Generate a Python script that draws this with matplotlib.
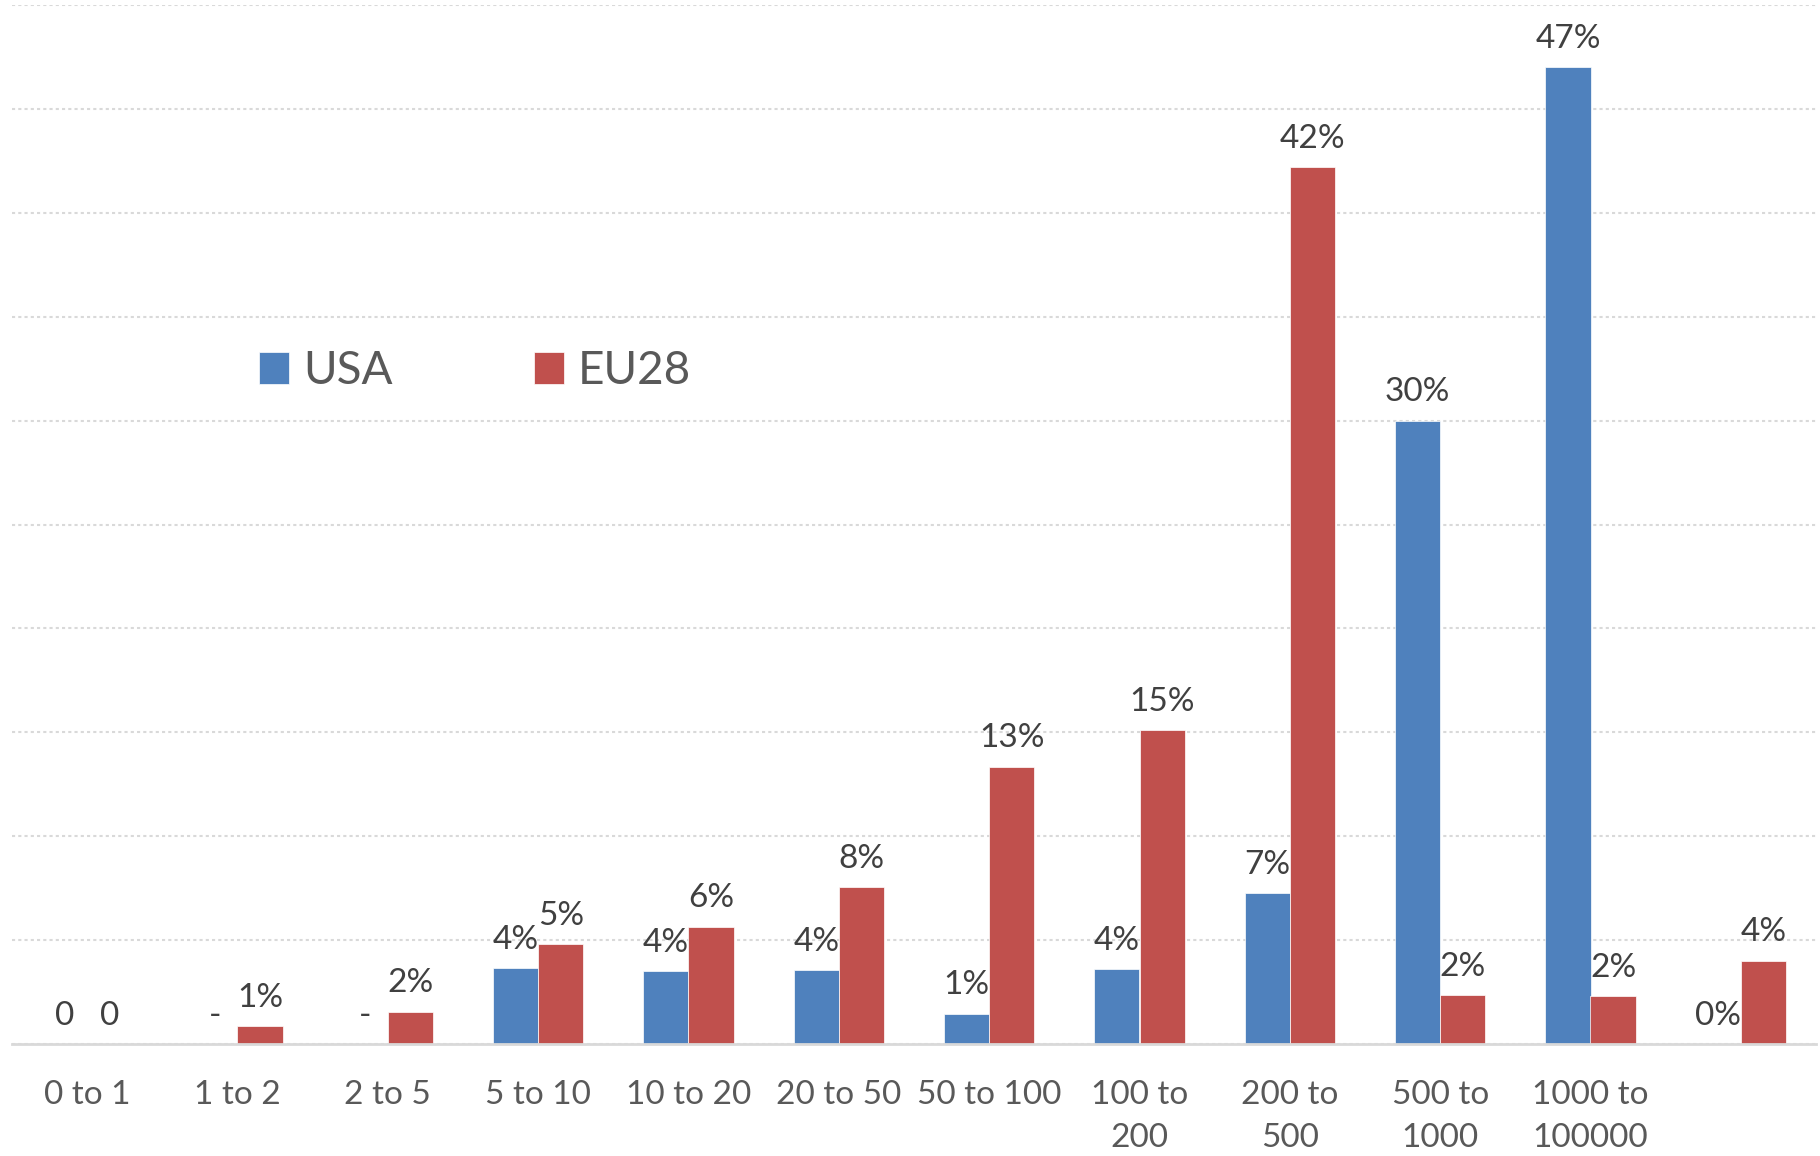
import numpy as np
import matplotlib
matplotlib.use("Agg")
import matplotlib.pyplot as plt

plt.rcParams['font.family'] = ['Lato', 'DejaVu Sans']

# ------------------ DATOS ------------------
categorias = ["0 to 1", "1 to 2", "2 to 5", "5 to 10", "10 to 20", "20 to 50",
              "50 to 100", "100 to\n200", "200 to\n500", "500 to\n1000",
              "1000 to\n100000", ""]
usa = [0, 0, 0, 3.65, 3.5, 3.55, 1.45, 3.6, 7.25, 30.0, 47.0, 0]
eu28 = [0, 0.85, 1.55, 4.8, 5.65, 7.55, 13.35, 15.1, 42.2, 2.35, 2.3, 4.0]
etiquetas_usa = ["0", "-", "-", "4%", "4%", "4%", "1%", "4%", "7%", "30%", "47%", "0%"]
etiquetas_eu28 = ["0", "1%", "2%", "5%", "6%", "8%", "13%", "15%", "42%", "2%", "2%", "4%"]

azul = "#4F81BD"
rojo = "#C0504D"
gris_texto = "#404040"

fig = plt.figure(figsize=(18.2, 11.56), dpi=100)
ax = fig.add_axes([12 / 1820, 1 - 1044 / 1156, 1804 / 1820, 1039 / 1156])

x = np.arange(len(categorias))
ancho = 0.3
ax.bar(x - ancho / 2, usa, ancho, color=azul, label="USA",
       edgecolor="white", linewidth=0.5, zorder=3)
ax.bar(x + ancho / 2, eu28, ancho, color=rojo, label="EU28",
       edgecolor="white", linewidth=0.5, zorder=3)

# etiquetas de datos
for xs, vals, labs in [(x - ancho / 2, usa, etiquetas_usa), (x + ancho / 2, eu28, etiquetas_eu28)]:
    for xi, v, t in zip(xs, vals, labs):
        ax.annotate(t, (xi, v), xytext=(0, 14), textcoords="offset points",
                    ha="center", va="baseline", fontsize=24, color=gris_texto)

ax.set_xlim(-0.5, len(categorias) - 0.5)
ax.set_ylim(0, 50)
ax.set_yticks(np.arange(0, 51, 5))
ax.set_yticklabels([])
ax.tick_params(axis="y", length=0)
ax.grid(axis="y", linestyle=(0, (1.5, 1.5)), color="#d9d9d9", linewidth=1.5, zorder=0)
ax.set_xticks(x)
ax.set_xticklabels(categorias, fontsize=24, color="#595959", linespacing=1.55)
ax.tick_params(axis="x", length=0, pad=26)

for lado in ["top", "right", "left"]:
    ax.spines[lado].set_visible(False)
ax.spines["bottom"].set_color("#d9d9d9")
ax.spines["bottom"].set_linewidth(2)
ax.spines["bottom"].set_zorder(4)

leg = ax.legend(loc="center left", bbox_to_anchor=(218 / 1820, 1 - 371 / 1156),
                bbox_transform=fig.transFigure, ncol=2, frameon=False,
                fontsize=33, handlelength=0.65, handleheight=0.7,
                handletextpad=0.3, columnspacing=3.1)
for t in leg.get_texts():
    t.set_color("#595959")

fig.savefig("out.png", dpi=100)
